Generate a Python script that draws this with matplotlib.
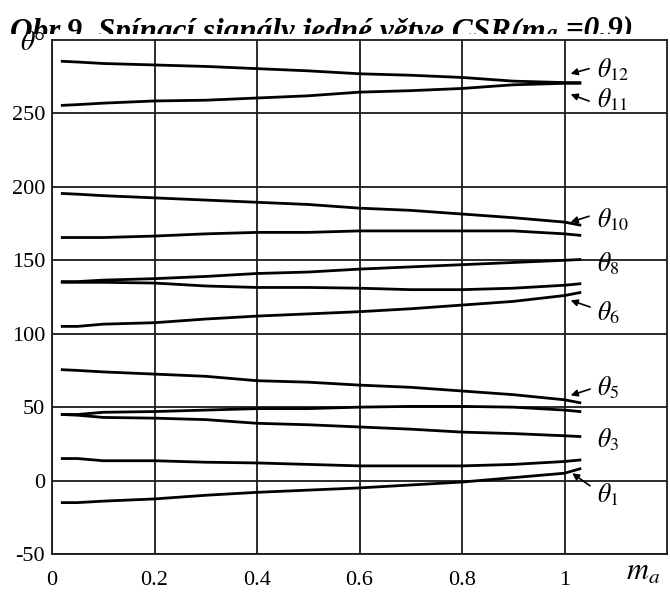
import matplotlib
matplotlib.use("Agg")
import matplotlib.pyplot as plt
from matplotlib.transforms import Bbox, TransformedBbox

plt.rcParams['font.family'] = ['Liberation Serif', 'DejaVu Serif']
plt.rcParams['mathtext.fontset'] = 'stix'
plt.rcParams['axes.unicode_minus'] = False

# modulacni index m_a
ma = [0.02, 0.05, 0.1, 0.2, 0.3, 0.4, 0.5, 0.6, 0.7, 0.8, 0.9, 1.0, 1.03]

# spinaci uhly theta_1 .. theta_12 (stupne)
theta1 = [-15, -15, -14, -12.5, -10, -8, -6.5, -5, -3, -1, 2, 5, 8]
theta2 = [15, 15, 13.5, 13.5, 12.5, 12, 11, 10, 10, 10, 11, 13, 14]
theta3 = [45, 44.5, 43, 42.5, 41.5, 39, 38, 36.5, 35, 33, 32, 30.5, 30]
theta4 = [45, 45, 46.5, 47, 48, 49, 49, 50, 50.5, 50.5, 50, 48, 47]
theta5 = [75.5, 75, 74, 72.5, 71, 68, 67, 65, 63.5, 61, 58.5, 55, 53]
theta6 = [105, 105, 106.5, 107.5, 110, 112, 113.5, 115, 117, 119.5, 122, 126, 128]
theta7 = [135, 135, 135, 134.5, 132.5, 131.5, 131.5, 131, 130, 130, 131, 133, 134]
theta8 = [135.5, 135.5, 136.5, 137.5, 139, 141, 142, 144, 145.5, 147, 148.5, 150, 150.5]
theta9 = [165.5, 165.5, 165.5, 166.5, 168, 169, 169, 170, 170, 170, 170, 168, 167]
theta10 = [195.5, 195, 194, 192.5, 191, 189.5, 188, 185.5, 184, 181.5, 179, 176, 174]
theta11 = [255.5, 256, 257, 258.5, 259, 260.5, 262, 264.5, 265.5, 267, 269.5, 270.5, 270.5]
theta12 = [285.5, 285, 284, 283, 282, 280.5, 279, 277, 276, 274.5, 272, 271, 271]

krivky = [theta1, theta2, theta3, theta4, theta5, theta6,
          theta7, theta8, theta9, theta10, theta11, theta12]

xticks = [0, 0.2, 0.4, 0.6, 0.8, 1.0]
xtick_labels = ["0", "0.2", "0.4", "0.6", "0.8", "1"]
yticks = [-50, 0, 50, 100, 150, 200, 250]

# popisky: text, pozice textu, (konec sipky, hrot sipky) nebo None
popisky = [
    (r'$\theta_{12}$', (1.063, 280), ((1.048, 280.5), (1.012, 277))),
    (r'$\theta_{11}$', (1.063, 259.5), ((1.048, 258.4), (1.012, 263))),
    (r'$\theta_{10}$', (1.063, 177.7), ((1.048, 180), (1.012, 176))),
    (r'$\theta_{8}$', (1.063, 148), None),
    (r'$\theta_{6}$', (1.063, 114), ((1.05, 118.2), (1.012, 122.7))),
    (r'$\theta_{5}$', (1.063, 63), ((1.05, 62.3), (1.012, 58))),
    (r'$\theta_{3}$', (1.063, 27.7), None),
    (r'$\theta_{1}$', (1.063, -9.8), ((1.05, -3.6), (1.015, 5))),
]

fig = plt.figure(figsize=(6.7, 5.94), dpi=100)
ax = fig.add_axes([52/670, 40/594, 615/670, 514/594])

for k in krivky:
    ax.plot(ma, k, color='k', lw=2.0, solid_joinstyle='round')

ax.set_xlim(0, 1.2)
ax.set_ylim(-50, 300)
ax.set_xticks(xticks)
ax.set_xticklabels(xtick_labels)
ax.set_yticks(yticks)
ax.tick_params(length=0, labelsize=16)
ax.tick_params(axis='x', pad=12)
ax.tick_params(axis='y', pad=5)
ax.grid(True, color='#1a1a1a', lw=1.3)
for s in ax.spines.values():
    s.set_linewidth(1.3)
    s.set_color('#1a1a1a')

for txt, pos, sipka in popisky:
    ax.text(pos[0], pos[1], txt, fontsize=18.5, va='center', ha='left', clip_on=False)
    if sipka is not None:
        ax.annotate('', xy=sipka[1], xytext=sipka[0],
                    arrowprops=dict(arrowstyle='-|>', color='k', lw=1.2,
                                    mutation_scale=10, shrinkA=0, shrinkB=0),
                    annotation_clip=False)

fig.text(20/670, 1 - 44/594, r'$\theta$°', fontsize=20, ha='left', va='center')
fig.text(626/670, 1 - 572/594, r'$m_a$', fontsize=22, ha='left', va='center')

# nadpis, spodni cast je oriznuta
orez = TransformedBbox(Bbox([[0, 1 - 34/594], [1, 1]]), fig.transFigure)
t1 = fig.text(10/670, 1 - 40/594, 'Obr.9  Spínací signály jedné větve CSR(m',
              fontsize=22.5, fontweight='bold', fontstyle='italic', va='baseline')
t2 = ax.annotate('a', xy=(1, 0), xycoords=t1, xytext=(1, 2), textcoords='offset points',
                 fontsize=15, fontweight='bold', fontstyle='italic', va='bottom',
                 annotation_clip=False)
t3 = ax.annotate(' =0.9)', xy=(1, 0), xycoords=t2, xytext=(0, 0), textcoords='offset points',
                 fontsize=22.5, fontweight='bold', fontstyle='italic', va='bottom',
                 annotation_clip=False)
for t in (t1, t2, t3):
    t.set_clip_box(orez)
    t.set_clip_on(True)

fig.savefig('out.png', dpi=100)
